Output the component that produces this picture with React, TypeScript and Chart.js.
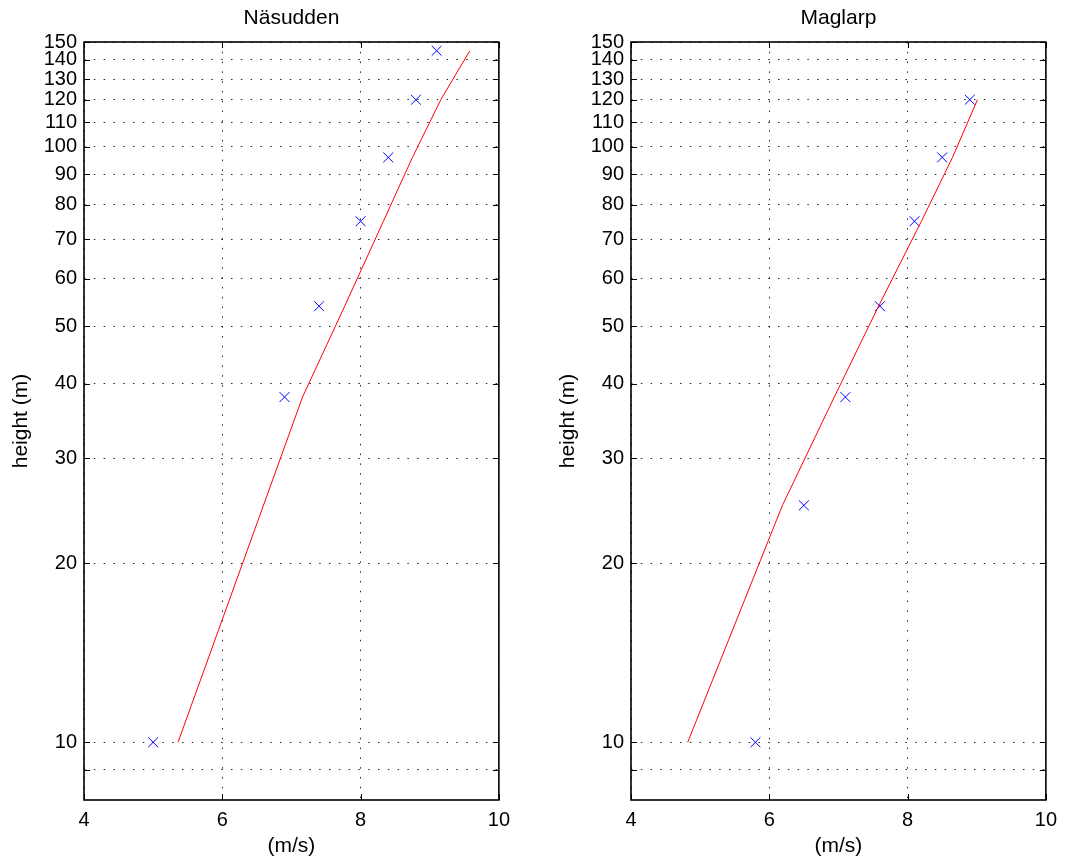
import React, { useEffect, useRef } from "react";
import { Chart, registerables } from "chart.js";

Chart.register(...registerables);

const FONT = "'Liberation Sans', Arial, Helvetica, sans-serif";

// Axis ticks
const xTicks = [4, 6, 8, 10];
const yTicks = [9, 10, 20, 30, 40, 50, 60, 70, 80, 90, 100, 110, 120, 130, 140, 150];
const yTickLabels = ["", "10", "20", "30", "40", "50", "60", "70", "80", "90", "100", "110", "120", "130", "140", "150"];

// Näsudden
const nasHeights = [10, 38, 54, 75, 96, 120, 145];
const nasMeasured = [5.0, 6.9, 7.4, 8.0, 8.4, 8.8, 9.1];
const nasFit = [5.36, 7.16, 7.77, 8.33, 8.75, 9.16, 9.58];

// Maglarp
const magHeights = [10, 25, 38, 54, 75, 96, 120];
const magMeasured = [5.8, 6.5, 7.1, 7.6, 8.1, 8.5, 8.9];
const magFit = [4.82, 6.19, 6.94, 7.58, 8.2, 8.65, 9.01];

const framePlugin = {
  id: "matlabFrame",
  afterDraw(chart: any) {
    const { ctx, chartArea, scales } = chart;
    const { left, right, top, bottom } = chartArea;
    ctx.save();
    ctx.strokeStyle = "#000";
    ctx.lineWidth = 1;
    ctx.beginPath();
    for (const v of yTicks) {
      const y = Math.round(scales.y.getPixelForValue(v)) + 0.5;
      ctx.moveTo(left, y);
      ctx.lineTo(left + 6, y);
      ctx.moveTo(right, y);
      ctx.lineTo(right - 6, y);
    }
    for (const v of xTicks) {
      const x = Math.round(scales.x.getPixelForValue(v)) + 0.5;
      ctx.moveTo(x, top);
      ctx.lineTo(x, top + 6);
      ctx.moveTo(x, bottom);
      ctx.lineTo(x, bottom - 6);
    }
    ctx.stroke();
    ctx.lineWidth = 1.6;
    ctx.strokeRect(left, top, right - left, bottom - top);
    ctx.restore();
  },
};

function Panel({ title, heights, measured, fit, left }: any) {
  const ref = useRef<HTMLCanvasElement | null>(null);
  useEffect(() => {
    if (!ref.current) return;
    const chart = new Chart(ref.current, {
      type: "scatter",
      data: {
        datasets: [
          {
            data: fit.map((x: number, i: number) => ({ x, y: heights[i] })),
            showLine: true,
            borderColor: "#ff0000",
            borderWidth: 1,
            pointRadius: 0,
            fill: false,
          },
          {
            data: measured.map((x: number, i: number) => ({ x, y: heights[i] })),
            showLine: false,
            pointStyle: "crossRot",
            pointRadius: 7,
            borderColor: "#0000ff",
            backgroundColor: "#0000ff",
            borderWidth: 1,
          },
        ],
      } as any,
      options: {
        animation: false,
        responsive: false,
        devicePixelRatio: 1,
        layout: { padding: { left: 0, right: 19, top: 0, bottom: 0 } },
        plugins: {
          legend: { display: false },
          tooltip: { enabled: false },
          title: {
            display: true,
            text: title,
            fullSize: false,
            color: "#000",
            font: { family: FONT, size: 21, weight: "normal" },
            padding: { top: 6, bottom: 10.8 },
          },
        },
        scales: {
          x: {
            type: "linear",
            min: 4,
            max: 10,
            afterBuildTicks: (s: any) => {
              s.ticks = xTicks.map((v) => ({ value: v }));
            },
            afterFit: (s: any) => {
              s.height = 64;
            },
            ticks: {
              autoSkip: false,
              maxRotation: 0,
              color: "#000",
              padding: 8,
              font: { family: FONT, size: 20 },
              callback: (v: any) => String(v),
            },
            grid: { color: "rgba(0,0,0,0.85)", lineWidth: 1, drawTicks: false },
            border: { display: false, dash: [1.5, 8.3] },
            title: {
              display: true,
              text: "(m/s)",
              color: "#000",
              font: { family: FONT, size: 21 },
              padding: { top: 0, bottom: 5.4 },
            },
          },
          y: {
            type: "logarithmic",
            min: 8,
            max: 150,
            afterBuildTicks: (s: any) => {
              s.ticks = yTicks.map((v) => ({ value: v }));
            },
            afterFit: (s: any) => {
              s.width = 84;
            },
            ticks: {
              autoSkip: false,
              color: "#000",
              padding: 7,
              font: { family: FONT, size: 20 },
              callback: (v: any) => {
                const i = yTicks.indexOf(Number(v));
                return i >= 0 ? yTickLabels[i] : "";
              },
            },
            grid: { color: "rgba(0,0,0,0.85)", lineWidth: 1, drawTicks: false },
            border: { display: false, dash: [1.5, 8.3] },
            title: {
              display: true,
              text: "height (m)",
              color: "#000",
              font: { family: FONT, size: 21 },
              padding: { top: 8.4, bottom: 0 },
            },
          },
        },
      } as any,
      plugins: [framePlugin],
    });
    return () => chart.destroy();
  }, []);
  return (
    <canvas
      ref={ref}
      width={518}
      height={864}
      style={{ position: "absolute", left, top: 0, width: 518, height: 864 }}
    />
  );
}

export default function App() {
  return (
    <div
      style={{
        position: "fixed",
        left: 0,
        top: 0,
        width: 1066,
        height: 864,
        background: "#fff",
        overflow: "hidden",
      }}
    >
      <Panel title="Näsudden" heights={nasHeights} measured={nasMeasured} fit={nasFit} left={0} />
      <Panel title="Maglarp" heights={magHeights} measured={magMeasured} fit={magFit} left={547} />
    </div>
  );
}
